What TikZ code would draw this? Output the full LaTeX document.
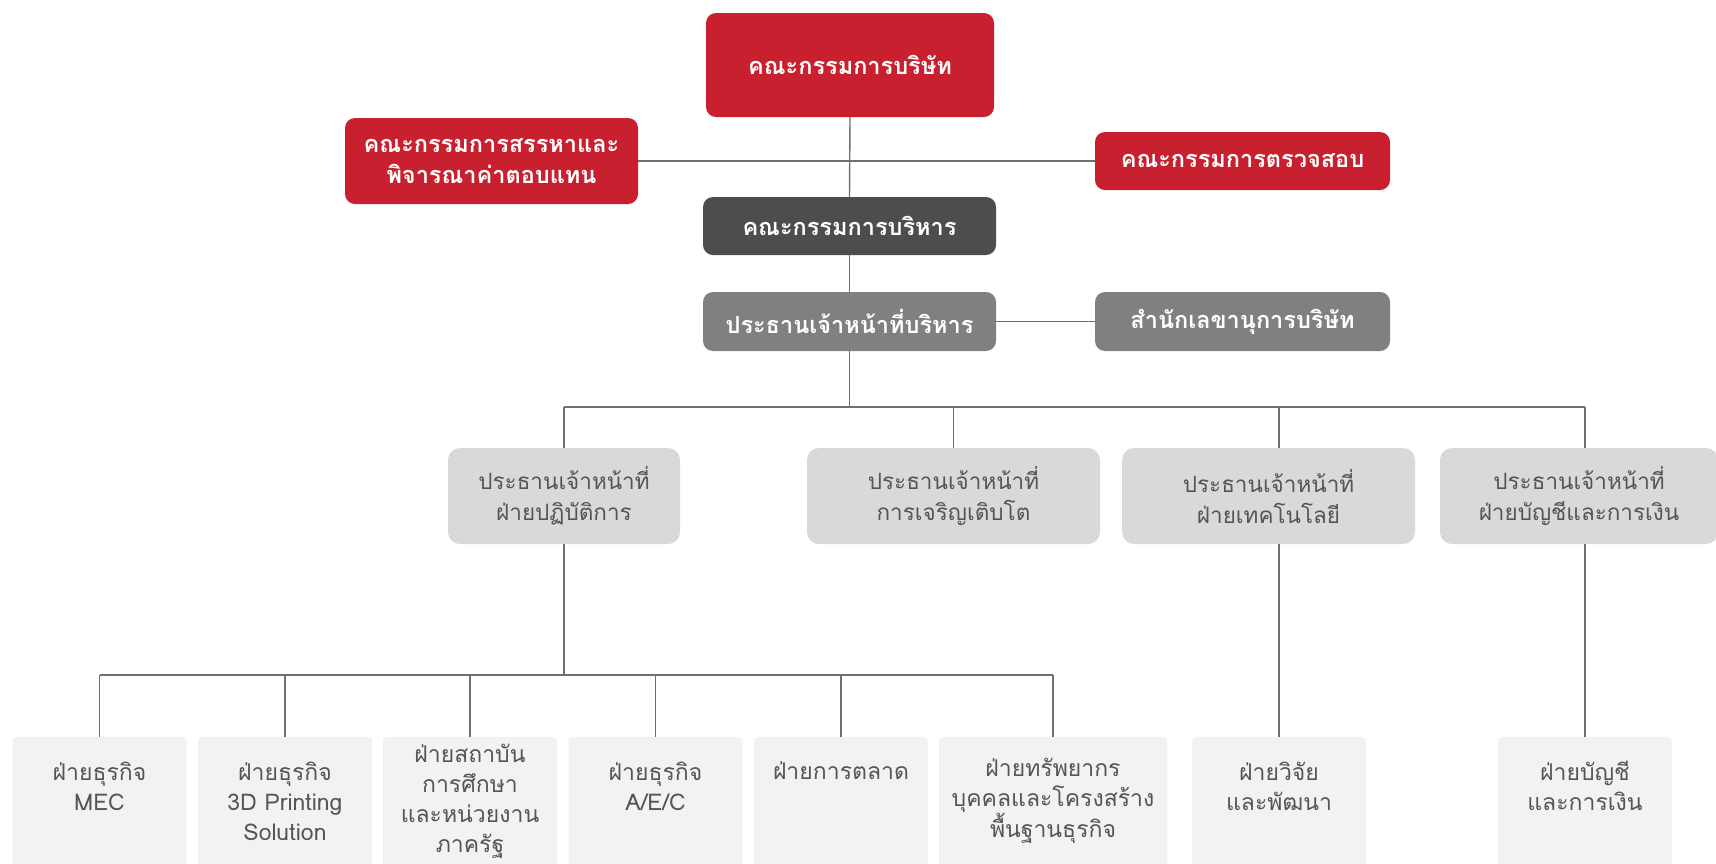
\documentclass[tikz,border=0pt]{standalone}
\usepackage{fontspec}
\setmainfont[Script=Thai]{Loma}
\definecolor{cred}{RGB}{200,32,46}
\definecolor{cdark}{RGB}{77,77,77}
\definecolor{cgray}{RGB}{128,128,128}
\definecolor{clight}{RGB}{217,217,217}
\definecolor{cpale}{RGB}{242,242,242}
\definecolor{ctext}{RGB}{85,85,85}
\definecolor{cline}{RGB}{112,112,112}
\tikzset{
  box/.style={rectangle, rounded corners=10, inner sep=0, align=center},
  whitetext/.style={text=white, font=\bfseries\fontsize{23.5}{31}\selectfont},
  redbox/.style={box, fill=cred, whitetext},
  darkbox/.style={box, fill=cdark, whitetext},
  graybox/.style={box, fill=cgray, whitetext, minimum width=293, minimum height=59},
  lightbox/.style={box, fill=clight, rounded corners=12, minimum height=96, text=ctext, font=\fontsize{22.5}{31}\selectfont},
  palebox/.style={rectangle, rounded corners=4, fill=cpale, minimum width=174, minimum height=138, inner sep=0},
  paletext/.style={inner sep=0, align=center, text=ctext, font=\fontsize{23}{30}\selectfont},
  conn/.style={draw=cline, line width=1.4}
}
\begin{document}
\begin{tikzpicture}[x=1pt,y=-1pt]
\useasboundingbox (0,0) rectangle (1716,863);
% top levels
\node[redbox, minimum width=288, minimum height=104] (board) at (850,65) {คณะกรรมการบริษัท};
\node[redbox, minimum width=293, minimum height=86] (nom) at (491.5,161) {คณะกรรมการสรรหาและ\\พิจารณาค่าตอบแทน};
\node[redbox, minimum width=295, minimum height=58] (audit) at (1242.5,161) {คณะกรรมการตรวจสอบ};
\node[darkbox, minimum width=293, minimum height=58] (exec) at (849.5,226) {คณะกรรมการบริหาร};
\node[graybox] (ceo) at (849.5,321.5) {ประธานเจ้าหน้าที่บริหาร};
\node[graybox, minimum width=295] (sec) at (1242.5,321.5) {สำนักเลขานุการบริษัท};
% level 3
\node[lightbox, minimum width=232] (c1) at (564,496) {ประธานเจ้าหน้าที่\\ฝ่ายปฏิบัติการ};
\node[lightbox, minimum width=293] (c2) at (953.5,496) {ประธานเจ้าหน้าที่\\การเจริญเติบโต};
\node[lightbox, minimum width=293] (c3) at (1268.5,496) {ประธานเจ้าหน้าที่\\ฝ่ายเทคโนโลยี};
\node[lightbox, minimum width=278] (c4) at (1579,496) {ประธานเจ้าหน้าที่\\ฝ่ายบัญชีและการเงิน};
% bottom boxes
\node[palebox] (b1) at (99.5,806) {};
\node[palebox] (b2) at (285,806) {};
\node[palebox] (b3) at (470,806) {};
\node[palebox] (b4) at (655.5,806) {};
\node[palebox] (b5) at (841,806) {};
\node[palebox, minimum width=228] (b6) at (1053,806) {};
\node[palebox] (b7) at (1279,806) {};
\node[palebox] (b8) at (1585,806) {};
\node[paletext] (t1) at (99.5,786) {ฝ่ายธุรกิจ\\MEC};
\node[paletext] (t2) at (285,801) {ฝ่ายธุรกิจ\\3D Printing\\Solution};
\node[paletext] (t3) at (470,801) {ฝ่ายสถาบัน\\การศึกษา\\และหน่วยงาน\\ภาครัฐ};
\node[paletext] (t4) at (655.5,786) {ฝ่ายธุรกิจ\\A/E/C};
\node[paletext] (t5) at (841,771) {ฝ่ายการตลาด};
\node[paletext] (t6) at (1053,801) {ฝ่ายทรัพยากร\\บุคคลและโครงสร้าง\\พื้นฐานธุรกิจ};
\node[paletext] (t7) at (1279,786) {ฝ่ายวิจัย\\และพัฒนา};
\node[paletext] (t8) at (1585,786) {ฝ่ายบัญชี\\และการเงิน};
% connectors
\coordinate (j1) at (849.5,407);
\coordinate (j2) at (564,675);
\draw[conn] (nom.east) -- (audit.west);
\draw[conn] (board.south) -- (exec.north);
\draw[conn] (exec.south) -- (ceo.north);
\draw[conn] (ceo.east) -- (sec.west);
\draw[conn] (ceo.south) -- (j1);
\draw[conn] (c1.north |- j1) -- (b8.north |- j1);
\draw[conn] (c1.north |- j1) -- (c1.north);
\draw[conn] (c2.north |- j1) -- (c2.north);
\draw[conn] (b7.north |- j1) -- (b7.north |- c3.north);
\draw[conn] (b8.north |- j1) -- (b8.north |- c4.north);
\draw[conn] (c1.south) -- (j2);
\draw[conn] (b1.north |- j2) -- (b6.north |- j2);
\foreach \b in {b1,b2,b3,b4,b5,b6} \draw[conn] (\b.north |- j2) -- (\b.north);
\draw[conn] (b7.north |- c3.south) -- (b7.north);
\draw[conn] (b8.north |- c4.south) -- (b8.north);
\end{tikzpicture}
\end{document}
